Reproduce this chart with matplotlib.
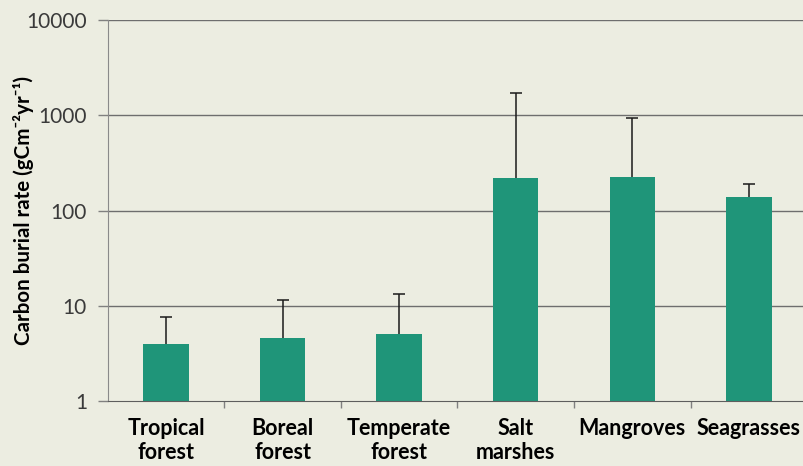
import numpy as np
import matplotlib.pyplot as plt
from matplotlib.ticker import FixedLocator, NullLocator

# carbon burial rates by ecosystem (gC m-2 yr-1)
categories = ["Tropical\nforest", "Boreal\nforest", "Temperate\nforest",
              "Salt\nmarshes", "Mangroves", "Seagrasses"]
burial_rate = [4.0, 4.6, 5.1, 218, 226, 138]
upper_value = [7.6, 11.5, 13.3, 1700, 930, 190]

bg = "#ecede1"
bar_color = "#1f9579"

plt.rcParams['font.family'] = ['Lato', 'DejaVu Sans']

fig = plt.figure(figsize=(8.04, 4.66), dpi=100, facecolor=bg)
ax = fig.add_axes([0.134, 0.1395, 0.87, 0.8175], facecolor=bg)

x = np.arange(len(categories))
upper_err = np.array(upper_value) - np.array(burial_rate)
ax.bar(x, burial_rate, width=0.39, color=bar_color, zorder=2)
eb = ax.errorbar(x, burial_rate, yerr=[np.zeros(len(x)), upper_err], fmt="none",
                 ecolor="#1a1a1a", elinewidth=1.1, capsize=4, capthick=1.1, zorder=3)
# only the upper whisker gets a cap
eb[1][0].set_visible(False)

ax.set_yscale("log")
ax.set_ylim(1, 10000)
ax.set_xlim(-0.5, len(categories) - 0.5)

yticks = [1, 10, 100, 1000, 10000]
ax.yaxis.set_major_locator(FixedLocator(yticks))
ax.yaxis.set_minor_locator(NullLocator())
ax.set_yticklabels([str(v) for v in yticks], fontsize=15, color="#3a3a3a")
ax.tick_params(axis="y", length=7, width=1, color="#808080", pad=8)
for v in yticks[1:]:
    ax.axhline(v, color="#6e6e6e", linewidth=1, zorder=1)

# category labels at centres, tick marks between categories
ax.set_xticks(x)
ax.set_xticklabels(categories, fontsize=15.5, fontweight="bold", linespacing=1.2)
ax.tick_params(axis="x", which="major", length=0, pad=12)
ax.set_xticks(np.arange(0.5, len(categories) - 0.5), minor=True)
ax.tick_params(axis="x", which="minor", length=5, width=1, color="#808080")

for side in ["top", "right"]:
    ax.spines[side].set_visible(False)
ax.spines["left"].set_color("#8a8a8a")
ax.spines["bottom"].set_color("#5e5e5e")

ax.set_ylabel("Carbon burial rate (gCm\u207b\u00b2yr\u207b\u00b9)",
              fontsize=14.8, fontweight="bold")
ax.yaxis.set_label_coords(-0.105, 0.5)

fig.savefig("out.png", dpi=100, facecolor=bg)
